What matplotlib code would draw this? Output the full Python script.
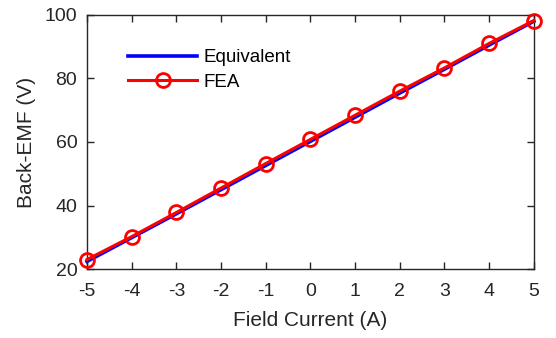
import matplotlib.pyplot as plt

plt.rcParams['font.family'] = ['Liberation Sans', 'DejaVu Sans']
plt.rcParams['axes.unicode_minus'] = False

# Field current (A) and back-EMF (V)
current = [-5, -4, -3, -2, -1, 0, 1, 2, 3, 4, 5]
emf_equiv = [22.4, 29.9, 37.4, 45.0, 52.6, 60.2, 67.8, 75.4, 82.9, 90.5, 98.0]
emf_fea = [23.0, 30.2, 37.8, 45.5, 53.2, 60.8, 68.4, 76.0, 83.3, 91.0, 98.2]

fig = plt.figure(figsize=(5.56, 3.38), dpi=100)
ax = fig.add_axes([0.1565, 0.204, 0.8035, 0.752])

ax.plot(current, emf_equiv, color='#0000ff', lw=2.6, label='Equivalent',
        zorder=2, clip_on=False)
ax.plot(current, emf_fea, color='#ff0000', lw=2.2, marker='o', ms=10,
        mfc='none', mew=2.0, label='FEA', zorder=3, clip_on=False)

ax.set_xlim(-5, 5)
ax.set_ylim(20, 100)
ax.set_xticks(current)
ax.set_yticks([20, 40, 60, 80, 100])

dark = '#262626'
for s in ax.spines.values():
    s.set_color(dark)
    s.set_linewidth(1.0)
ax.tick_params(direction='in', top=True, right=True, length=5, width=1.0,
               colors=dark, labelsize=14)
ax.tick_params(axis='x', pad=10)
ax.tick_params(axis='y', pad=7)

ax.set_xlabel('Field Current (A)', fontsize=15, color=dark, labelpad=8)
ax.set_ylabel('Back-EMF (V)', fontsize=15, color=dark, labelpad=6)

leg = ax.legend(loc='upper left', bbox_to_anchor=(0.075, 0.895), frameon=False,
                fontsize=13.5, handlelength=3.7, handletextpad=0.3,
                labelspacing=0.4, borderaxespad=0)

fig.savefig('out.png', dpi=100)
